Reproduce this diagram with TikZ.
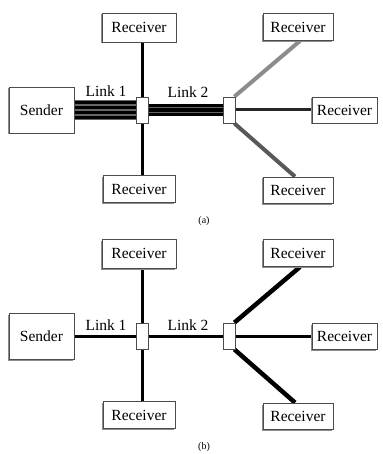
\documentclass[tikz,border=0pt]{standalone}
\usepackage{fontspec}
\setmainfont{Liberation Serif}
\usetikzlibrary{shadows,backgrounds}

\tikzset{
  box/.style={draw=black!70, fill=white, line width=0.8pt, inner sep=0pt,
    minimum width=72pt, minimum height=27pt, font=\fontsize{15.5}{18}\selectfont,
    drop shadow={shadow xshift=-1pt, shadow yshift=-1.5pt, fill=black!45, opacity=1}},
  switch/.style={draw=black!70, fill=white, line width=0.8pt, inner sep=0pt,
    minimum width=12pt, minimum height=26pt},
  link/.style={line width=3pt},
  tag/.style={font=\fontsize{15.5}{18}\selectfont, inner sep=1pt},
  caption/.style={font=\fontsize{10}{12}\selectfont}
}

\begin{document}
\begin{tikzpicture}[x=1pt, y=-1pt]
\useasboundingbox (0,0) rectangle (382,454);

% (a)
\node[box, minimum width=65pt, minimum height=46pt] (senda) at (41.5,110) {Sender};
\node[switch] (s1a) at (142,110) {};
\node[switch] (s2a) at (229,110) {};
\node[box, minimum width=74pt, minimum height=29pt] (rtla) at (139,27.5) {Receiver};
\node[box] (rbla) at (139,189) {Receiver};
\node[box, minimum width=70pt] (rtra) at (298,27) {Receiver};
\node[box, minimum width=65pt, minimum height=26pt] (rra) at (344.5,110) {Receiver};
\node[box, minimum width=70pt, minimum height=26pt] (rbra) at (298,190) {Receiver};
\node[tag] (l1a) at (106,91) {Link 1};
\node[tag] (l2a) at (188,92) {Link 2};
\node[caption] (capa) at (204,221) {(a)};

\begin{scope}[on background layer]
\draw[line width=20pt, color=black!60] (senda.east) -- (s1a.west);
\foreach \d in {-7.5,-2.5,2.5,7.5}{
	\draw[line width=3.4pt] ([yshift=\d pt]senda.east) -- ([yshift=\d pt]s1a.west);
}
\draw[line width=12pt, color=black!60] (s1a.east) -- (s2a.west);
\foreach \d in {-4.5,0,4.5}{
	\draw[line width=3.4pt] ([yshift=\d pt]s1a.east) -- ([yshift=\d pt]s2a.west);
}
\draw[link] (rtla.south -| s1a.north) -- (s1a.north);
\draw[link] (s1a.south) -- (rbla.north -| s1a.south);
\draw[line width=4pt, color=black!45] ([xshift=-1pt]s2a.north east) -- ([xshift=2pt]rtra.south);
\draw[link, color=black!85] (s2a.east) -- (rra.west);
\draw[line width=4pt, color=black!65] ([xshift=-1pt]s2a.south east) -- ([xshift=-3pt]rbra.north);
\end{scope}

% (b)
\begin{scope}[yshift=-226pt]
\node[box, minimum width=65pt, minimum height=46pt] (sendb) at (41.5,110) {Sender};
\node[switch] (s1b) at (142,110) {};
\node[switch] (s2b) at (229,110) {};
\node[box, minimum width=74pt, minimum height=29pt] (rtlb) at (139,27.5) {Receiver};
\node[box] (rblb) at (139,189) {Receiver};
\node[box, minimum width=70pt] (rtrb) at (298,27) {Receiver};
\node[box, minimum width=65pt, minimum height=26pt] (rrb) at (344.5,110) {Receiver};
\node[box, minimum width=70pt, minimum height=26pt] (rbrb) at (298,190) {Receiver};
\node[tag] (l1b) at (106,99) {Link 1};
\node[tag] (l2b) at (188,99) {Link 2};
\node[caption] (capb) at (204,221) {(b)};

\begin{scope}[on background layer]
\draw[link] (sendb.east) -- (s1b.west);
\draw[link] (s1b.east) -- (s2b.west);
\draw[link] (rtlb.south -| s1b.north) -- (s1b.north);
\draw[link] (s1b.south) -- (rblb.north -| s1b.south);
\draw[line width=4.5pt] ([xshift=-1pt]s2b.north east) -- ([xshift=2pt]rtrb.south);
\draw[link] (s2b.east) -- (rrb.west);
\draw[line width=4.5pt] ([xshift=-1pt]s2b.south east) -- ([xshift=-3pt]rbrb.north);
\end{scope}
\end{scope}

\end{tikzpicture}
\end{document}
